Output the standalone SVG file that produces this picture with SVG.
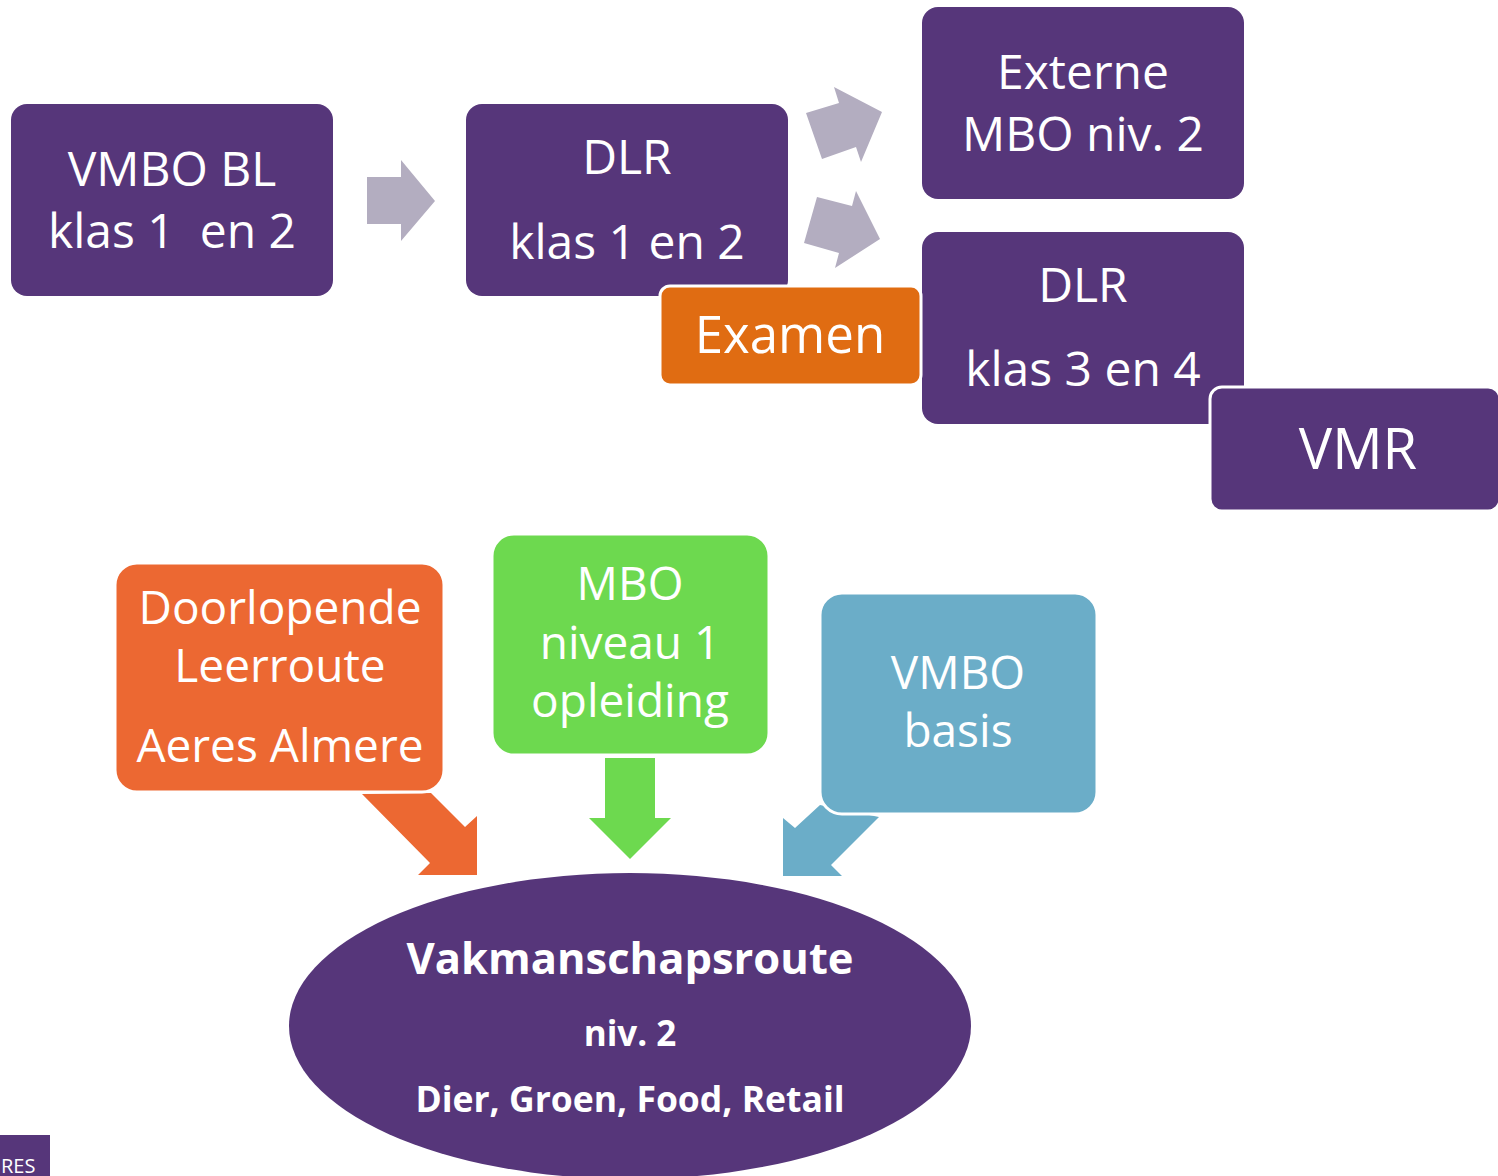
<svg xmlns="http://www.w3.org/2000/svg" width="1498" height="1176" viewBox="0 0 1498 1176">
<style>
.t{font-family:"Open Sans","Noto Sans",sans-serif;fill:#fff;text-anchor:middle}
.b{font-weight:bold}
.pur{fill:#56367A}
.box{stroke:#fff;stroke-width:3}
.gray{fill:#B3ADC0}
</style>
<rect width="1498" height="1176" fill="#fff"/>
<g id="connectors">
<polygon class="gray" points="367,177 401,177 401,160 435,201 401,241 401,224 367,224"/>
<polygon class="gray" points="806,113 839,103 834,87 882,112 861,162 856,147 822,159"/>
<polygon class="gray" points="817,197 852,206 856,191 880,239 835,268 839,253 804,243"/>
<polygon fill="#EC6832" points="362,794 431,793 465,827 477,816 477,875 418,875 430,863"/>
<polygon fill="#6DD94F" points="605,758 655,758 655,818 671,818 630,859 589,818 605,818"/>
<polygon fill="#6BADC8" points="820,805 795,828 783,818 783,876 842,876 831,865 879,817"/>
</g>
<g id="vmbo-bl">
<rect class="pur" x="11" y="104" width="322" height="192" rx="16"/>
<text class="t" x="172" y="186" font-size="48">VMBO BL</text>
<text class="t" x="172" y="248" font-size="48" xml:space="preserve">klas 1  en 2</text>
</g>
<g id="dlr-12">
<rect class="pur" x="466" y="104" width="322" height="192" rx="16"/>
<text class="t" x="627" y="174" font-size="48">DLR</text>
<text class="t" x="627" y="259" font-size="48">klas 1 en 2</text>
</g>
<g id="externe">
<rect class="pur" x="922" y="7" width="322" height="192" rx="16"/>
<text class="t" x="1083" y="89" font-size="48">Externe</text>
<text class="t" x="1083" y="151" font-size="48">MBO niv. 2</text>
</g>
<g id="dlr-34">
<rect class="pur" x="922" y="232" width="322" height="192" rx="16"/>
<text class="t" x="1083" y="302" font-size="48">DLR</text>
<text class="t" x="1083" y="386" font-size="48">klas 3 en 4</text>
</g>
<g id="examen">
<rect class="box" fill="#E06C12" x="660" y="286" width="261" height="99" rx="10"/>
<text class="t" x="790" y="353" font-size="51">Examen</text>
</g>
<g id="vmr">
<rect class="pur box" x="1210" y="387" width="290" height="124" rx="12"/>
<text class="t" x="1358" y="469" font-size="56">VMR</text>
</g>
<g id="doorlopende">
<rect class="box" fill="#EC6832" x="115" y="563" width="329" height="229" rx="22"/>
<text class="t" x="280" y="624" font-size="46">Doorlopende</text>
<text class="t" x="280" y="682" font-size="46">Leerroute</text>
<text class="t" x="280" y="762" font-size="46">Aeres Almere</text>
</g>
<g id="mbo1">
<rect class="box" fill="#6DD94F" x="492" y="534" width="277" height="221" rx="22"/>
<text class="t" x="630" y="600" font-size="46">MBO</text>
<text class="t" x="630" y="659" font-size="46">niveau 1</text>
<text class="t" x="630" y="717" font-size="46">opleiding</text>
</g>
<g id="vmbo-basis">
<rect class="box" fill="#6BADC8" x="820" y="593" width="277" height="221" rx="22"/>
<text class="t" x="958" y="689" font-size="46">VMBO</text>
<text class="t" x="958" y="747" font-size="46">basis</text>
</g>
<g id="vakmanschapsroute">
<ellipse class="pur" cx="630" cy="1026" rx="341" ry="153"/>
<text class="t b" x="630" y="974" font-size="43.5">Vakmanschapsroute</text>
<text class="t b" x="630" y="1046" font-size="35">niv. 2</text>
<text class="t b" x="630" y="1112" font-size="35.5">Dier, Groen, Food, Retail</text>
</g>
<g id="logo">
<rect class="pur" x="0" y="1135" width="50" height="41"/>
<text class="t" x="1" y="1173" font-size="20" style="text-anchor:start">RES</text>
</g>
</svg>
